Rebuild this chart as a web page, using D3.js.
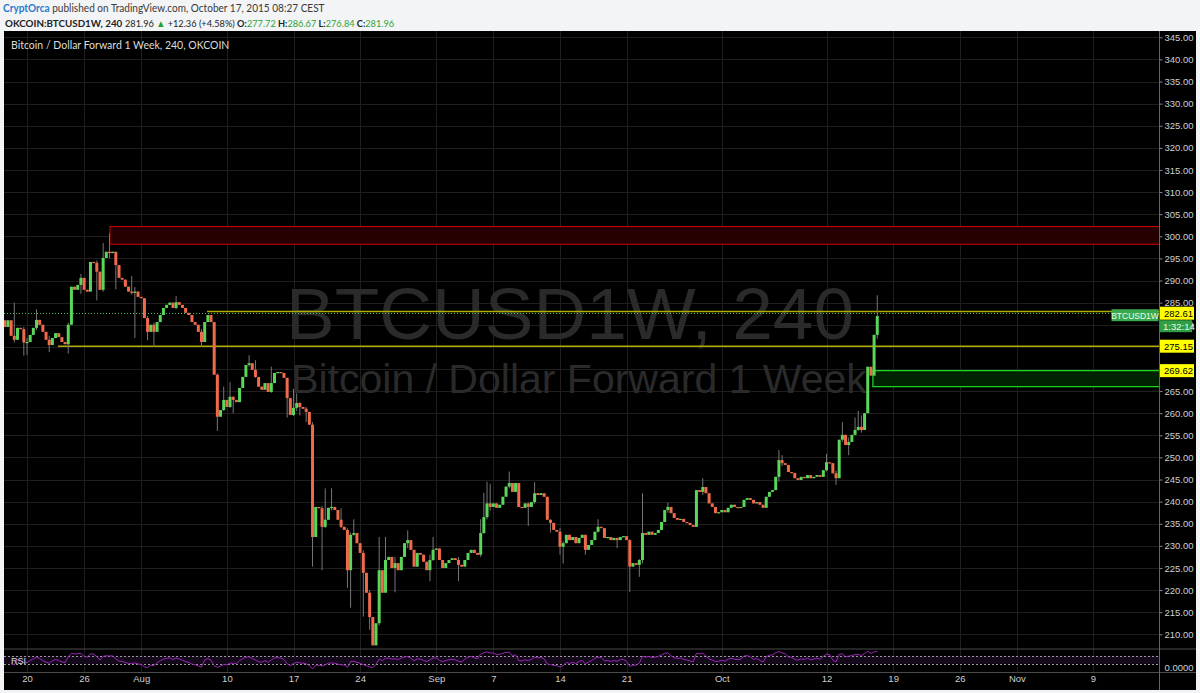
<!DOCTYPE html>
<html><head><meta charset="utf-8">
<script src="https://cdn.jsdelivr.net/npm/d3@7"></script>
<style>
html,body{margin:0;padding:0;background:#f2f4f6;}
svg{display:block;}
</style></head><body>
<svg id="c" width="1200" height="693"></svg>
<script>
// ---------------- DATA ----------------
const startTime = "2015-07-17T16:00:00Z";   // first candle (8h candles)
const stepHours = 8;
const firstOpen = 281.0;
const closes = [
279.5,281.0,277.5,276.6,279.3,279.0,276.0,276.1,277.7,279.3,
281.1,280.0,278.4,276.6,275.4,277.0,278.1,277.2,276.1,275.6,
280.0,288.6,287.9,289.0,290.6,287.9,287.5,294.2,294.0,292.0,
287.9,295.1,296.5,296.2,296.5,293.5,290.6,290.2,288.6,287.5,
287.2,287.5,286.3,286.0,281.5,278.4,280.0,278.4,280.6,282.2,
283.8,284.5,285.0,283.8,285.1,284.5,283.8,282.7,282.2,280.6,
280.0,278.4,276.1,280.6,282.2,280.6,268.7,259.2,260.7,263.0,
261.4,263.7,263.0,262.5,265.7,268.2,270.9,271.3,269.8,268.2,
266.0,265.3,266.8,264.8,266.8,269.1,269.3,269.1,268.0,263.4,
259.6,261.2,262.3,261.4,261.0,260.3,257.4,232.0,238.8,238.5,
234.3,235.9,238.6,238.8,238.1,235.9,234.3,233.6,224.5,232.5,
232.9,230.6,228.4,223.9,219.4,213.9,207.5,212.5,224.5,219.4,
226.8,227.5,225.0,226.1,224.5,227.5,230.6,231.3,229.1,225.3,
228.4,228.0,226.4,224.5,226.8,229.1,229.4,226.8,225.0,226.1,
226.8,227.2,226.8,225.7,225.3,226.8,228.4,229.1,228.4,228.0,
232.9,236.5,239.6,238.8,239.6,238.6,239.3,241.1,243.4,244.2,
242.2,244.2,238.8,238.6,239.6,238.8,239.9,241.9,241.5,241.9,
241.1,235.9,235.2,233.6,233.2,229.8,230.6,232.5,231.3,232.0,
230.6,231.8,232.5,229.1,230.2,231.3,233.2,234.3,234.0,231.8,
232.0,231.3,231.8,231.3,232.0,232.2,231.3,225.3,226.1,225.7,
226.8,232.9,232.5,233.2,232.5,232.9,233.6,235.4,238.1,238.8,
237.4,236.3,235.9,236.1,235.4,235.2,234.7,234.3,242.6,242.2,
243.3,241.9,239.6,238.8,237.4,237.6,238.1,237.6,238.6,239.3,
238.8,238.6,238.8,240.4,240.8,240.4,239.6,239.9,239.3,238.6,
241.1,242.2,242.6,245.6,249.4,248.7,248.3,246.7,246.5,245.3,
244.9,245.6,245.3,246.0,245.3,245.6,246.0,245.6,247.1,248.9,
248.7,246.4,245.3,254.0,255.1,252.8,253.5,255.1,256.2,256.9,
256.2,260.0,270.5,268.5,277.72,281.96
];
// [candle index, high, low] for candles with visible wicks
const wicks = [
[3,285.0,276.0],[6,279.5,273.0],[7,277.0,273.2],[10,283.5,278.8],[14,277.5,273.8],[20,280.5,273.5],
[24,291.5,287.0],[29,294.5,285.5],[31,298.5,287.5],[33,300.7,295.0],[35,296.5,288.0],[40,291.0,286.8],
[41,288.5,277.0],[45,282.0,276.5],[47,280.5,275.0],[54,286.5,283.5],[62,279.0,275.0],
[67,269.0,256.0],[69,266.0,260.5],[71,267.0,261.2],[72,263.8,260.0],[77,273.1,270.5],[79,272.0,268.0],
[84,270.5,264.6],[89,268.0,259.0],[91,265.5,259.4],[92,264.5,260.5],[93,262.5,259.5],[95,261.4,258.0],
[97,258.0,225.3],[100,239.0,224.5],[101,243.0,234.0],[103,243.0,238.0],[106,238.5,234.0],
[108,234.0,220.5],[109,233.0,216.0],[110,236.0,232.3],[113,229.0,214.0],[115,220.0,211.0],
[118,232.0,212.0],[120,232.0,219.5],[123,227.5,219.5],[127,233.5,229.5],[134,228.0,222.0],[135,232.0,226.6],
[143,227.5,222.0],[150,236.0,227.5],[151,242.0,232.7],[152,244.5,236.0],[153,244.0,238.0],
[159,246.8,243.0],[165,239.8,234.5],[167,244.4,239.5],[172,236.0,233.0],[175,234.0,228.0],[176,231.0,226.0],
[183,232.5,228.0],[187,236.0,233.0],[193,231.8,229.5],[197,231.5,219.6],[200,227.0,223.0],
[201,241.9,226.0],[209,239.8,237.5],[220,245.3,241.5],[244,251.7,244.5],[245,250.5,248.0],
[259,250.8,246.8],[262,247.0,243.8],[264,258.0,253.5],[266,254.5,250.5],[268,259.0,255.0],
[269,260.5,256.0],[270,259.5,255.6],[275,286.67,276.84]
];
const priceTicks = [345,340,335,330,325,320,315,310,305,300,295,290,285,280,275,270,265,260,255,250,245,240,235,230,225,220,215,210];
const dateTicks = ["2015-07-20","2015-07-26","2015-08-01","2015-08-10","2015-08-17","2015-08-24","2015-09-01","2015-09-07","2015-09-14","2015-09-21","2015-10-01","2015-10-12","2015-10-19","2015-10-26","2015-11-01","2015-11-09"];
const dateLabels = ["20","26","Aug","10","17","24","Sep","7","14","21","Oct","12","19","26","Nov","9"];
// drawn levels
const redZone = ["2015-07-28T17:00:00Z", 302.2, 298.2];
const greenZone = ["2015-10-16T21:00:00Z", 269.62, 266.0];
const yellowLineStarts = ["2015-08-07T22:00:00Z","2015-07-23T06:00:00Z"];
const yellowLinePrices = [283.0, 275.15];
const lastPrice = 282.61;
const axisBoxes = ["282.61","275.15","269.62"];
const countdown = "1:32:14";
const rsiPeriod = 6;

// ---------------- CHART ----------------
const svg = d3.select("#c");
const pDate = d3.utcParse("%Y-%m-%d");
const L = 4, R = 1159.5, T = 31, B = 648.5, PB = 672.5, FB = 690;
const FONT = "'Liberation Sans', Arial, sans-serif";
const x = d3.scaleUtc().domain([pDate("2015-07-20"), pDate("2015-11-09")]).range([27, 1093]);
const y = d3.scaleLinear().domain([210, 345]).range([634.3, 37.3]);
const yR = d3.scaleLinear().domain([0, 100]).range([670, 649.5]);

const t0 = new Date(startTime);
const candles = closes.map((c, i) => {
  const o = i ? closes[i-1] : firstOpen;
  return {t: new Date(+t0 + i*stepHours*3600e3), o, c, h: Math.max(o,c), l: Math.min(o,c)};
});
wicks.forEach(([i,h,l]) => { candles[i].h = h; candles[i].l = l; });

// header
const hdr = svg.append("g").attr("font-family","Lato, 'Open Sans', sans-serif");
const h1 = hdr.append("text").attr("transform","translate(3,11.5) scale(0.94,1)").attr("font-size",10.7);
h1.append("tspan").attr("fill","#2b7ad0").attr("font-weight",700).text("CryptOrca");
h1.append("tspan").attr("fill","#3a3a3a").text(" published on TradingView.com, October 17, 2015 08:27 CEST");
hdr.append("text").attr("x",5).attr("y",26.5).attr("font-size",9.8).attr("font-weight",700).attr("fill","#222")
  .text("OKCOIN:BTCUSD1W, 240");
const h2 = hdr.append("text").attr("transform","translate(125,26.5) scale(0.94,1)").attr("font-size",9.8);
const G = "#2ea33a";
[["281.96 ","#222",400],["▲","#21a12f",400],[" +12.36 (+4.58%) ","#222",400],
 ["O:","#222",700],["277.72",G,400],[" H:","#222",700],["286.67",G,400],[" L:","#222",700],["276.84",G,400],[" C:","#222",700],["281.96",G,400]]
 .forEach(([s,c,w]) => h2.append("tspan").attr("fill",c).attr("font-weight",w).text(s));

// chart frame
svg.append("rect").attr("x",L).attr("y",T).attr("width",1196-L).attr("height",FB-T).attr("fill","#000");

svg.append("defs").append("clipPath").attr("id","main").append("rect")
  .attr("x",L).attr("y",T).attr("width",R-L).attr("height",B-T);

// grid
const grid = svg.append("g").attr("stroke","#1f1f1f").attr("stroke-width",1);
grid.selectAll(".h").data(priceTicks).join("line")
  .attr("x1",L).attr("x2",R).attr("y1",d=>Math.round(y(d))+0.5).attr("y2",d=>Math.round(y(d))+0.5);
grid.selectAll(".v").data(dateTicks).join("line")
  .attr("x1",d=>Math.round(x(pDate(d)))+0.5).attr("x2",d=>Math.round(x(pDate(d)))+0.5).attr("y1",T).attr("y2",PB);

// watermark
const wm = svg.append("g").attr("fill","#2a2a2a").attr("font-family",FONT).attr("text-anchor","middle");
wm.append("text").attr("x",570).attr("y",339).attr("font-size",73).text("BTCUSD1W, 240");
wm.append("text").attr("x",579).attr("y",393).attr("font-size",41).text("Bitcoin / Dollar Forward 1 Week");

// title
svg.append("text").attr("x",11).attr("y",49).attr("fill","#dcdcdc").attr("font-size",10.5)
  .attr("font-family","Lato, 'Open Sans', sans-serif")
  .text("Bitcoin / Dollar Forward 1 Week, 240, OKCOIN");

const main = svg.append("g").attr("clip-path","url(#main)");

// zones
main.append("rect").attr("x",x(new Date(redZone[0]))).attr("y",y(redZone[1]))
  .attr("width",R - x(new Date(redZone[0]))).attr("height",y(redZone[2])-y(redZone[1]))
  .attr("fill","#260000").attr("stroke","#d00000").attr("stroke-width",1);
main.append("rect").attr("x",x(new Date(greenZone[0]))).attr("y",y(greenZone[1]))
  .attr("width",R - x(new Date(greenZone[0]))+2).attr("height",y(greenZone[2])-y(greenZone[1]))
  .attr("fill","#002200").attr("stroke","#1ee01e").attr("stroke-width",1.2);

// yellow lines
yellowLinePrices.forEach((p,i) => {
  main.append("line").attr("x1",x(new Date(yellowLineStarts[i]))).attr("x2",R)
    .attr("y1",y(p)).attr("y2",y(p)).attr("stroke","#b0ac00").attr("stroke-width",1.4);
});
// last price dotted line
main.append("line").attr("x1",L).attr("x2",R).attr("y1",Math.round(y(lastPrice))+0.5).attr("y2",Math.round(y(lastPrice))+0.5)
  .attr("stroke","#3fbf6a").attr("stroke-width",1).attr("stroke-dasharray","1,2");

// candles
const bw = 3;
main.append("g").attr("stroke","#777").attr("stroke-width",1).selectAll("line").data(candles).join("line")
  .attr("x1",d=>x(d.t)).attr("x2",d=>x(d.t)).attr("y1",d=>y(d.h)).attr("y2",d=>y(d.l));
main.append("g").selectAll("rect").data(candles).join("rect")
  .attr("x",d=>x(d.t)-bw/2).attr("width",bw)
  .attr("y",d=>y(Math.max(d.o,d.c)))
  .attr("height",d=>Math.max(1.2,Math.abs(y(d.o)-y(d.c))))
  .attr("fill",d=>d.c>=d.o ? "#5ad65a" : "#f06a4c");

// separators
svg.append("line").attr("x1",L).attr("x2",1196).attr("y1",B+0.5).attr("y2",B+0.5).attr("stroke","#4a4a4a");
svg.append("line").attr("x1",L).attr("x2",1196).attr("y1",PB).attr("y2",PB).attr("stroke","#4a4a4a");

// RSI pane
function rsi(arr, n) {
  const out = []; let ag = 0, al = 0;
  for (let i = 1; i < arr.length; i++) {
    const d = arr[i]-arr[i-1], g = Math.max(d,0), l = Math.max(-d,0), k = Math.min(i,n);
    ag = (ag*(k-1)+g)/k; al = (al*(k-1)+l)/k;
    if (i >= 2) out.push({t: candles[i].t, v: al === 0 ? 100 : 100 - 100/(1+ag/al)});
  }
  return out;
}
const rsiData = rsi(closes, rsiPeriod);
svg.append("rect").attr("x",L).attr("y",yR(70)).attr("width",R-L).attr("height",yR(30)-yR(70)).attr("fill","#150a1c");
[70,30].forEach(v => svg.append("line").attr("x1",L).attr("x2",R).attr("y1",Math.round(yR(v))+0.5).attr("y2",Math.round(yR(v))+0.5)
  .attr("stroke","#9a9a9a").attr("stroke-dasharray","2,2"));
svg.append("path").datum(rsiData).attr("fill","none").attr("stroke","#9b27b8").attr("stroke-width",1)
  .attr("d", d3.line().x(d=>x(d.t)).y(d=>yR(d.v)));
svg.append("text").attr("x",11).attr("y",663.5).attr("fill","#d8d8d8").attr("font-size",9)
  .attr("font-family",FONT).text("RSI");

// right axis
const ax = svg.append("g").attr("transform",`translate(${R},0)`)
  .call(d3.axisRight(y).tickValues(priceTicks).tickFormat(d3.format(".2f")).tickSize(3).tickPadding(2));
ax.select(".domain").remove();
ax.selectAll("line").attr("stroke","#888");
ax.selectAll("text").attr("fill","#cfcfcf").attr("font-size",9.5).attr("font-family",FONT);
svg.append("line").attr("x1",R).attr("x2",R).attr("y1",T).attr("y2",FB).attr("stroke","#666");
svg.append("text").attr("x",R+5).attr("y",671).attr("fill","#cfcfcf").attr("font-size",9.5)
  .attr("font-family",FONT).text("0.0000");

// bottom axis
const bx = svg.append("g").attr("transform",`translate(0,${PB})`)
  .call(d3.axisBottom(x).tickValues(dateTicks.map(pDate)).tickFormat((d,i)=>dateLabels[i]).tickSize(0).tickPadding(3));
bx.select(".domain").remove();
bx.selectAll("text").attr("fill","#cfcfcf").attr("font-size",9.5).attr("font-family",FONT);

// axis boxes
const boxPrices = [lastPrice, yellowLinePrices[1], greenZone[1]];
boxPrices.forEach((p,i) => {
  const g = svg.append("g").attr("transform",`translate(${R+0.5},${y(p)})`);
  g.append("rect").attr("x",0).attr("y",-6.5).attr("width",34).attr("height",13).attr("fill","#ffff00");
  g.append("text").attr("x",4).attr("y",3.5).attr("fill","#000").attr("font-size",9.5)
    .attr("font-family",FONT).text(axisBoxes[i]);
});
// countdown box
const cg = svg.append("g").attr("transform",`translate(${R+0.5},${y(lastPrice)+13})`);
cg.append("rect").attr("x",0).attr("y",-6).attr("width",32).attr("height",12).attr("fill","#2f9e44");
cg.append("text").attr("x",3).attr("y",3.5).attr("fill","#e8ffe8").attr("font-size",9.5)
  .attr("font-family",FONT).text(countdown);
// symbol tag
const sg = svg.append("g").attr("transform",`translate(${R-48},${y(lastPrice)+2})`);
sg.append("rect").attr("x",0).attr("y",-6).attr("width",47).attr("height",12).attr("fill","#3aa84e");
sg.append("text").attr("x",23.5).attr("y",3.5).attr("text-anchor","middle").attr("fill","#e8ffe8").attr("font-size",8.5)
  .attr("font-family",FONT).text("BTCUSD1W");
</script>
</body></html>
